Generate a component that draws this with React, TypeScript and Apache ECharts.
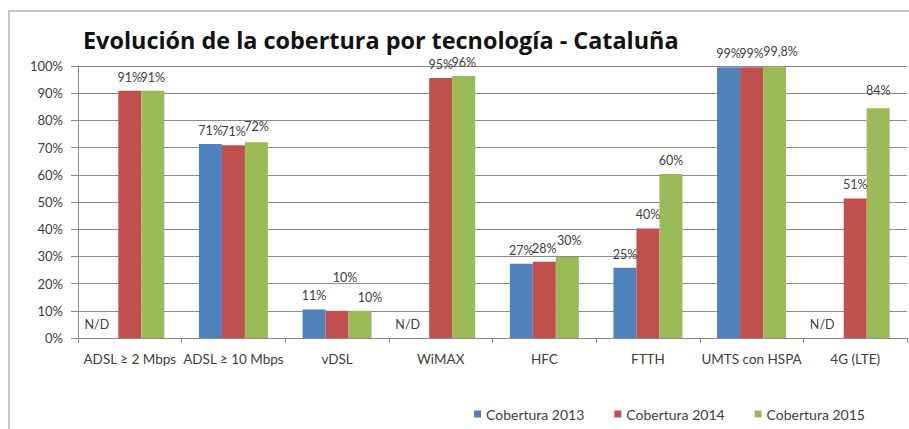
import React, { useEffect, useRef } from "react";
import * as echarts from "echarts";

const categories = ["ADSL ≥ 2 Mbps", "ADSL ≥ 10 Mbps", "vDSL", "WiMAX", "HFC", "FTTH", "UMTS con HSPA", "4G (LTE)"];
const seriesNames = ["Cobertura 2013", "Cobertura 2014", "Cobertura 2015"];
const cob2013 = [0, 71.3, 10.5, 0, 27.3, 25.8, 99.5, 0];
const cob2014 = [90.9, 70.9, 10, 95.6, 28, 40.3, 99.5, 51.3];
const cob2015 = [90.9, 72, 10, 96.3, 29.8, 60.3, 99.8, 84.5];
const labels2013 = ["N/D", "71%", "11%", "N/D", "27%", "25%", "99%", "N/D"];
const labels2014 = ["91%", "71%", "10%", "95%", "28%", "40%", "99%", "51%"];
const labels2015 = ["91%", "72%", "10%", "96%", "30%", "60%", "99,8%", "84%"];
const yTicks = [0, 10, 20, 30, 40, 50, 60, 70, 80, 90, 100];
const colors = ["#4F81BD", "#C0504D", "#9BBB59"];

const FONT = "Lato";

export default function App() {
  const ref = useRef<HTMLDivElement>(null);
  useEffect(() => {
    if (!ref.current) return;
    const chart = echarts.init(ref.current, null, { renderer: "svg" });

    const mk = (vals: number[], labs: string[], idx: number) =>
      vals.map((v, i) => {
        const item: any = { value: v };
        const lab = labs[i];
        const lbl: any = { formatter: lab };
        if (lab === "N/D") {
          lbl.offset = [-10, 0];
        }
        if (idx === 1 && i === 2) lbl.offset = [8, -20];
        if (idx === 2 && i === 2) lbl.offset = [10, 0];
        if (idx === 2 && i === 6) lbl.offset = [6, -2];
        if (idx === 2 && i === 1) lbl.offset = [0, -2];
        if (idx === 2 && i === 7) lbl.offset = [0, -4];
        if (idx === 2 && i === 4) lbl.offset = [2, -3];
        item.label = lbl;
        return item;
      });

    const allVals = [cob2013, cob2014, cob2015];
    const allLabs = [labels2013, labels2014, labels2015];

    chart.setOption({
      animation: false,
      backgroundColor: "#ffffff",
      title: {
        text: "Evolución de la cobertura por tecnología - Cataluña",
        left: 78,
        top: 23,
        textStyle: { fontFamily: "Open Sans", fontWeight: "bold", fontSize: 23.4, color: "#111111" },
      },
      graphic: [
        {
          type: "rect",
          shape: { x: 9, y: 11, width: 960, height: 480 },
          style: { fill: "none", stroke: "#c4c4c4", lineWidth: 2 },
          silent: true,
          z: 0,
        },
      ],
      legend: {
        left: 469,
        top: 402,
        itemWidth: 7,
        itemHeight: 7,
        itemGap: 30,
        icon: "rect",
        textStyle: { fontFamily: FONT, fontSize: 14, color: "#404040" },
        data: seriesNames,
      },
      grid: { left: 78, right: 2, top: 66, bottom: 91, containLabel: false },
      xAxis: {
        type: "category",
        data: categories,
        axisLine: { show: true, lineStyle: { color: "#8c8c8c", width: 1 } },
        axisTick: { show: true, length: 5, interval: 0, lineStyle: { color: "#8c8c8c" } },
        axisLabel: { interval: 0, margin: 14, fontFamily: FONT, fontSize: 13.5, color: "#404040" },
      },
      yAxis: {
        type: "value",
        min: yTicks[0],
        max: yTicks[yTicks.length - 1],
        interval: 10,
        axisLine: { show: true, lineStyle: { color: "#8c8c8c", width: 1 } },
        axisTick: { show: true, length: 7, lineStyle: { color: "#8c8c8c" } },
        axisLabel: { formatter: "{value}%", margin: 15, fontFamily: FONT, fontSize: 13, color: "#404040" },
        splitLine: { show: true, lineStyle: { color: "#8c8c8c", width: 1 } },
      },
      series: seriesNames.map((name, idx) => ({
        name,
        type: "bar",
        barWidth: 23,
        barGap: "0%",
        itemStyle: { color: colors[idx] },
        label: {
          show: true,
          position: "top",
          distance: 7,
          fontFamily: FONT,
          fontSize: 12.5,
          color: "#404040",
        },
        data: mk(allVals[idx], allLabs[idx], idx),
      })),
    });
    return () => chart.dispose();
  }, []);
  return <div ref={ref} style={{ position: "absolute", left: 0, top: 0, width: 909, height: 429 }} />;
}
